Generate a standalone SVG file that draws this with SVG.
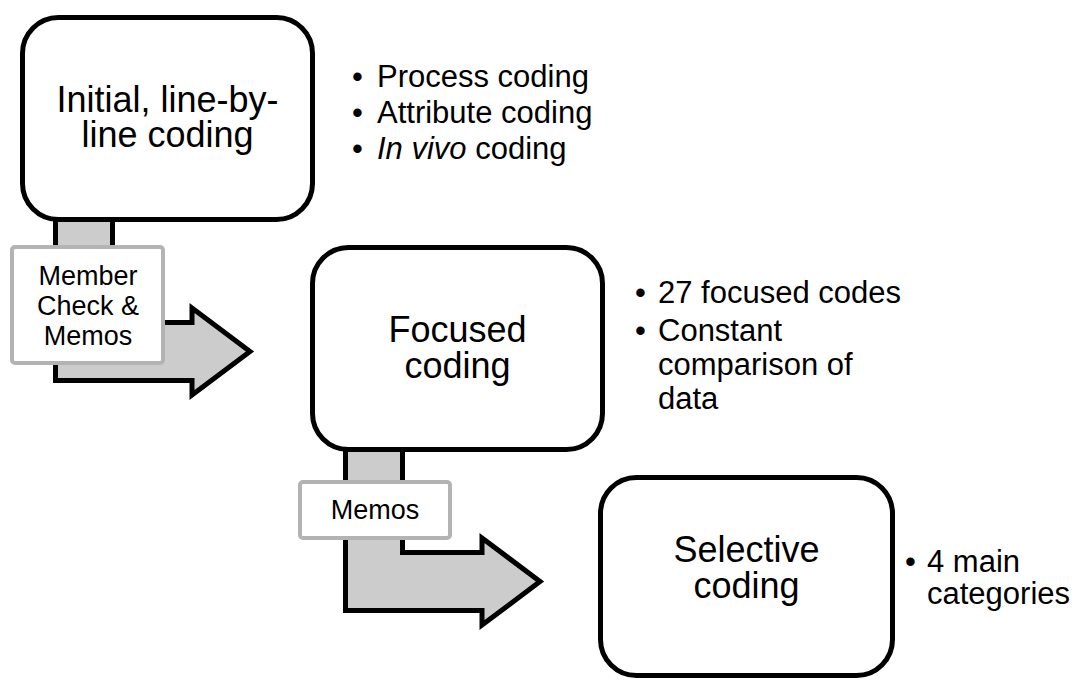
<svg xmlns="http://www.w3.org/2000/svg" width="1079" height="680" viewBox="0 0 1079 680">
  <style>
    .box { fill: #ffffff; stroke: #000000; stroke-width: 5; }
    .flow { fill: #cccccc; stroke: #000000; stroke-width: 5; stroke-linejoin: miter; stroke-miterlimit: 10; }
    .tag { fill: #ffffff; stroke: #b3b3b3; stroke-width: 4; }
    .title { font-family: "Liberation Sans", Arial, sans-serif; font-size: 36px; fill: #000000; text-anchor: middle; }
    .note { font-family: "Liberation Sans", Arial, sans-serif; font-size: 31px; fill: #000000; }
    .tagtext { font-family: "Liberation Sans", Arial, sans-serif; font-size: 27px; fill: #000000; text-anchor: middle; }
  </style>

  <rect width="1079" height="680" fill="#ffffff"/>

  <!-- bent arrows between stages, drawn first so the boxes sit on top -->
  <g id="connectors">
    <path class="flow" d="M55.5,219 L55.5,380.5 L192,380.5 L192,395 L250,351.5 L192,308 L192,322.5 L112.5,322.5 L112.5,219"/>
    <path class="flow" d="M345.5,449 L345.5,610.5 L482,610.5 L482,625 L540,581.5 L482,538 L482,552.5 L402.5,552.5 L402.5,449"/>
  </g>

  <g id="initial-coding">
    <rect class="box" x="22.5" y="17.5" width="290" height="202" rx="36" ry="36"/>
    <text class="title"><tspan x="167.5" y="112">Initial, line-by-</tspan><tspan x="167.5" y="147">line coding</tspan></text>
  </g>

  <g id="initial-notes">
    <text class="note" x="352" y="87">•</text>
    <text class="note" x="377" y="87">Process coding</text>
    <text class="note" x="352" y="123">•</text>
    <text class="note" x="377" y="123">Attribute coding</text>
    <text class="note" x="352" y="159">•</text>
    <text class="note" x="377" y="159"><tspan font-style="italic">In vivo</tspan> coding</text>
  </g>

  <g id="member-check-label">
    <rect class="tag" x="12" y="247" width="151" height="116" rx="3" ry="3"/>
    <text class="tagtext"><tspan x="88" y="285">Member</tspan><tspan x="88" y="315">Check &amp;</tspan><tspan x="88" y="345">Memos</tspan></text>
  </g>

  <g id="focused-coding">
    <rect class="box" x="312.5" y="247.5" width="290" height="202" rx="36" ry="36"/>
    <text class="title"><tspan x="457.5" y="342">Focused</tspan><tspan x="457.5" y="378">coding</tspan></text>
  </g>

  <g id="focused-notes">
    <text class="note" x="635" y="303">•</text>
    <text class="note" x="658" y="303">27 focused codes</text>
    <text class="note" x="635" y="341">•</text>
    <text class="note"><tspan x="658" y="341">Constant</tspan><tspan x="658" y="375">comparison of</tspan><tspan x="658" y="409">data</tspan></text>
  </g>

  <g id="memos-label">
    <rect class="tag" x="300" y="482" width="150" height="56" rx="3" ry="3"/>
    <text class="tagtext" x="375" y="519">Memos</text>
  </g>

  <g id="selective-coding">
    <rect class="box" x="600.5" y="477.5" width="292" height="198" rx="36" ry="36"/>
    <text class="title"><tspan x="746.5" y="562">Selective</tspan><tspan x="746.5" y="598">coding</tspan></text>
  </g>

  <g id="selective-notes">
    <text class="note" x="905" y="572">•</text>
    <text class="note"><tspan x="927" y="572">4 main</tspan><tspan x="927" y="604">categories</tspan></text>
  </g>
</svg>
